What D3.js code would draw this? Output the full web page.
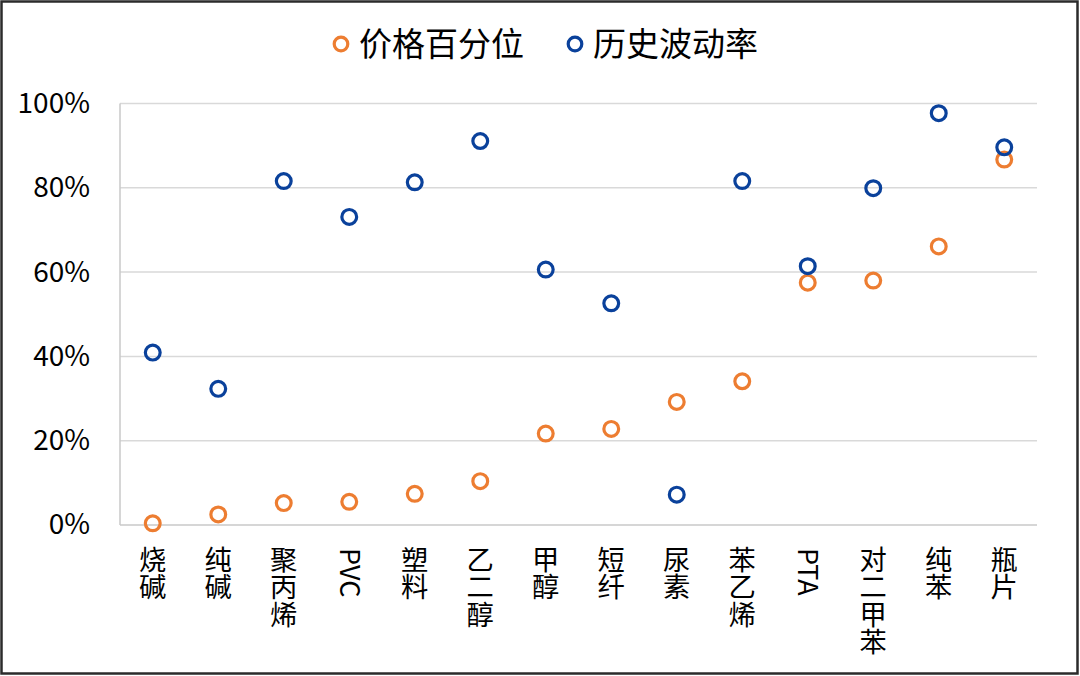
<!DOCTYPE html>
<html><head><meta charset="utf-8">
<script src="https://cdn.jsdelivr.net/npm/d3@7"></script>
<style>
html,body{margin:0;padding:0;background:#fff;}
svg{display:block;font-family:"Noto Sans CJK SC","Noto Sans",sans-serif;}
</style></head>
<body>
<svg id="chart" width="1080" height="676"></svg>
<script>
const categories = ["烧碱","纯碱","聚丙烯","PVC","塑料","乙二醇","甲醇","短纤","尿素","苯乙烯","PTA","对二甲苯","纯苯","瓶片"];
const pricePct = [0.4,2.5,5.2,5.5,7.4,10.4,21.7,22.8,29.2,34.1,57.5,58.0,66.1,86.7];
const histVol  = [40.9,32.3,81.6,73.1,81.3,91.1,60.6,52.6,7.2,81.6,61.4,79.9,97.7,89.6];
const yTicks = [0,20,40,60,80,100];
const seriesNames = ["价格百分位","历史波动率"];
const seriesColors = ["#ED7D31","#0A419B"];

const svg = d3.select("#chart");
const W = 1080, H = 676;
const m = {left:120, right:1037, top:103.5, bottom:525};

// outer border
svg.append("rect").attr("x",1.5).attr("y",1.5).attr("width",W-4).attr("height",H-4)
  .attr("fill","#fff").attr("stroke","#2b2b2b").attr("stroke-width",2.5);

const x = d3.scaleBand().domain(categories).range([m.left,m.right]);
const y = d3.scaleLinear().domain([0,100]).range([m.bottom,m.top]);

// gridlines
svg.append("g").selectAll("line").data(yTicks).join("line")
  .attr("x1",m.left).attr("x2",m.right)
  .attr("y1",d=>y(d)).attr("y2",d=>y(d))
  .attr("stroke",d=>d===0?"#c8c8c8":"#d9d9d9").attr("stroke-width",1.5);
// left axis line
svg.append("line").attr("x1",m.left).attr("x2",m.left).attr("y1",m.top).attr("y2",m.bottom)
  .attr("stroke","#c8c8c8").attr("stroke-width",1.5);

// y tick labels
const yAxis = d3.axisLeft(y).tickValues(yTicks).tickFormat(d=>d+"%").tickSize(0).tickPadding(0);
const ya = svg.append("g").attr("transform",`translate(${m.left-30},0)`).call(yAxis);
ya.select(".domain").remove();
ya.selectAll("text").attr("font-size",28).attr("fill","#000")
  .attr("font-family","'Noto Sans CJK SC','Noto Sans',sans-serif");

// x labels (vertical: stacked CJK chars, rotated Latin)
const xl = svg.append("g");
categories.forEach(c=>{
  const cx = x(c)+x.bandwidth()/2;
  if (/^[A-Za-z]+$/.test(c)) {
    xl.append("text").attr("transform",`translate(${cx},548) rotate(90)`)
      .attr("x",0).attr("y",0).attr("dy","0.36em")
      .attr("font-size",27).attr("fill","#000").text(c);
  } else {
    const t = xl.append("text").attr("text-anchor","middle").attr("font-size",27.3).attr("fill","#000");
    Array.from(c).forEach((ch,i)=>{
      t.append("tspan").attr("x",cx).attr("y",570+i*27.3).text(ch);
    });
  }
});

// points
[pricePct,histVol].forEach((vals,si)=>{
  svg.append("g").selectAll("circle").data(vals).join("circle")
    .attr("cx",(d,i)=>x(categories[i])+x.bandwidth()/2)
    .attr("cy",d=>y(d))
    .attr("r",7.4)
    .attr("fill","none")
    .attr("stroke",seriesColors[si])
    .attr("stroke-width",3.2);
});

// legend
const legX = [341,575];
seriesNames.forEach((n,i)=>{
  svg.append("circle").attr("cx",legX[i]).attr("cy",44).attr("r",6.8)
    .attr("fill","none").attr("stroke",seriesColors[i]).attr("stroke-width",3.2);
  svg.append("text").attr("x",legX[i]+18).attr("y",44).attr("dy","0.36em")
    .attr("font-size",33).attr("fill","#000").text(n);
});
</script>
</body></html>
